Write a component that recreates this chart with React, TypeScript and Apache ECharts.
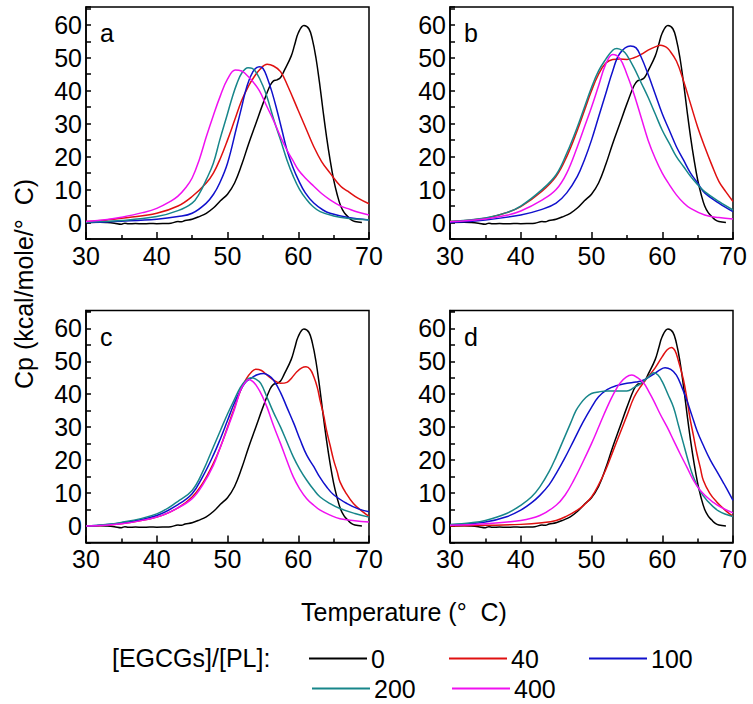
import React, { useEffect, useRef } from "react";
import * as echarts from "echarts";

type P = [number, number][];

const seriesNames = ["0", "40", "100", "200", "400"];
const seriesColors = ["#000000", "#e01010", "#1010cc", "#17868a", "#f010f0"];
const panelLetters = ["a", "b", "c", "d"];

const ctrl0: P = [[30,0],[32,0.1],[33,0],[34,-0.2],[35,-0.5],[35.5,-0.2],[36,-0.4],[37,-0.3],[38,-0.4],[39,-0.3],[40,-0.35],[41,-0.3],[42,-0.2],[43,0.3],[43.5,0.2],[44,0.6],[45,1.0],[46,1.8],[47,2.8],[48,4.4],[49,6.6],[50,8.6],[51,12],[52,17.5],[53,24],[54,30],[55,36],[56,41.5],[56.5,43],[57,43.3],[57.5,44],[58,46],[59,50.5],[59.5,54],[60,57.5],[60.8,59.8],[61.5,58.8],[62,55.5],[62.5,50],[63,42.5],[63.5,34],[64,26],[64.5,19],[65,13],[65.5,8.5],[66,5],[66.5,3],[67,1.8],[67.5,0.8],[68,0.3],[69,0]];

const a40: P = [[30,0.3],[33,0.8],[36,1.5],[40,2.8],[43,5],[45,7.9],[47,12],[48,15],[49,19.5],[50,25],[51,31],[52,37],[53,41.5],[53.7,44],[54.6,46.5],[55.6,48],[56.5,47.5],[57.5,45.8],[58.5,41.5],[60,34],[61,29],[62.2,23],[63.3,18.5],[64.5,15],[66,11],[67,9.5],[68.5,7.3],[70,5.7]];
const a100: P = [[30,0],[35,0.4],[40,1],[43,1.8],[45,2.8],[47,5.9],[48,8.5],[48.9,12],[50,18],[51.3,29],[52,35],[52.7,41],[53.6,45.8],[54.5,47.3],[55,46.8],[55.6,44],[56.3,39.5],[57,34],[57.7,28],[58.4,22],[59.2,17],[60,13],[61,9],[62.2,5.9],[63.5,3.8],[64.5,2.8],[66.9,1.6],[70,0.8]];
const a200: P = [[30,0.1],[35,0.6],[40,1.8],[43,3.6],[45,5.9],[46,8.7],[47,13],[48,18],[48.9,25],[50,33],[50.6,37.5],[51.3,42],[52,45.3],[52.9,47],[53.5,46.8],[54.2,45],[55,41.5],[55.6,38],[56.5,31.5],[57.5,25],[58.4,19],[59.3,14],[60.2,10],[61.2,6.9],[62,5],[63.1,3.3],[65,2],[66.9,1.3],[70,0.8]];
const a400: P = [[30,0.3],[33,0.9],[35,1.6],[38,3],[40,4.3],[42,6.5],[43,8],[44,10.3],[45,13.5],[46,19],[47,26],[48,32.5],[49,38.5],[50,43.5],[51.1,46.3],[52,46],[52.6,45],[53.5,43],[54.5,40],[55.5,35.5],[56.5,31],[57.5,26],[58.4,22],[59.2,19],[60,16],[61,13.5],[62.2,11],[63.3,8.8],[64.5,6.9],[66,5],[66.9,4.3],[68.5,3.1],[70,2.3]];

const b40: P = [[30,0.3],[35,1.3],[38,3],[40,4.8],[43,9.5],[45,14],[46.5,20],[48,28],[49,34],[50,40],[51,45],[52,48.3],[53,49.5],[54,49.6],[55,49.5],[56,50],[57,51],[58,52.3],[59,53.3],[59.8,53.8],[60.5,53.3],[61,52.3],[62,49],[63,43],[64,36],[65,29],[66,23],[67,17.5],[68,12.5],[69,9.3],[70,6.4]];
const b100: P = [[30,0],[35,0.8],[40,2.3],[43,4],[45,5.9],[46.5,9],[48,14],[49,19],[50,25],[51,32],[52,39],[53,46],[54,51.3],[55.5,53.6],[56.3,53],[57,50.3],[58,45],[59,39],[60,33],[61,28],[62,23],[63,19],[64,15],[65,12],[66,9],[68,5.9],[70,3.3]];
const b200: P = [[30,0.3],[35,1.4],[38,3],[40,5],[43,10],[45,14.5],[46.5,21],[48,29],[49,35],[50,41],[51,46],[52,49.5],[53,52.3],[53.6,52.8],[54.5,52],[55,50.8],[56,47],[57,42.5],[58,38],[59,33],[60,28],[61,24],[62,20],[63,17],[64,14],[65,11.5],[66,9.4],[68,6.4],[70,3.8]];
const b400: P = [[30,0.2],[35,1.1],[38,2.2],[40,3.5],[43,6.8],[45,10],[46.5,15],[48,23],[49,29],[50,35],[51,41.5],[52,48],[53,51],[54,49.8],[55,45],[56,39],[57,32],[58,25],[59,19.5],[60,15],[61,11.5],[62,8.4],[63,6],[64,4.3],[66,2.3],[68,1.5],[70,1.1]];

const c40: P = [[30,0],[35,0.7],[40,2.7],[43,5.5],[45,8.8],[46.5,13],[48,19],[49,24],[50,30],[51,36],[52,42],[52.7,44.8],[53.3,46.5],[54,47.6],[54.8,47.2],[55.6,45.8],[56.5,44.3],[57.5,43.3],[58.4,43.6],[59.1,45],[59.8,46.8],[60.5,48],[61.1,48.3],[61.7,47.5],[62.2,45.3],[62.7,42],[63.1,38],[63.6,33.5],[64,29],[64.5,24.5],[65,20],[65.5,16.5],[65.9,13.4],[66.8,9.8],[67.8,6.8],[69,4.5],[70,2.9]];
const c100: P = [[30,0],[35,0.9],[40,3.2],[43,6.5],[45,9.8],[46.5,15],[48,21.5],[49,26.5],[50,32],[51,37.5],[51.8,41],[52.5,43.5],[53.3,44.8],[54.2,45.9],[55.1,46.3],[55.8,45.7],[56.5,44.3],[57.5,40.5],[58.4,36],[59.4,31],[60.3,26],[61.2,21.5],[62.2,18],[63,15],[64,11.9],[65,9.5],[66.9,6.8],[68.5,5.2],[70,4.3]];
const c200: P = [[30,0],[35,1.1],[40,3.7],[43,7.5],[45,10.8],[46.5,16.5],[48,24],[49,29],[50,34],[51,38.5],[51.8,42],[52.5,44],[53.3,45],[54,44.6],[54.7,43.3],[55.6,39],[56.5,34.5],[57.5,30],[58.4,25.5],[59.3,21],[60.2,17.3],[61.2,13.9],[62.2,11],[63.1,8.8],[64.5,6.8],[65.9,5.3],[68,3.8],[70,2.7]];
const c400: P = [[30,0],[35,0.7],[40,2.7],[43,5.5],[45,8.3],[46.5,12.5],[48,18.4],[49,24],[50,29.6],[51,35.5],[51.8,41],[52.4,43.3],[53,44.5],[53.6,43.8],[54.2,42.2],[54.9,39.5],[55.6,36],[56.5,30.5],[57.5,25],[58.4,19.8],[59.3,14.9],[60.2,11.3],[61.2,8.3],[62.2,6.3],[63.1,4.8],[64.5,3.3],[65.9,2.2],[68,1.6],[70,1.2]];

const d40: P = [[30,0],[35,0.2],[40,0.5],[43,1],[45,1.7],[46.5,3],[48,4.8],[49,6.5],[50,8.8],[51,12.5],[52,17],[53,22.5],[54,28],[55,33.5],[56,39],[57,42.5],[58,45.3],[59,48],[60,51.4],[60.7,53.5],[61.3,54.2],[61.8,53.2],[62.3,50],[63,44.3],[63.5,38.5],[63.9,33],[64.4,27.5],[64.9,22],[65.4,17.5],[65.8,13.9],[66.7,10],[67.7,7.3],[69,4.6],[70,2.9]];
const d100: P = [[30,0.3],[35,1.2],[38,2.8],[40,4.8],[41.5,7],[42.7,9.3],[44,12.5],[45,15.9],[46.2,20.5],[47.5,26],[48.8,31.5],[50,36],[51,39.2],[52.2,41.4],[53.5,42.6],[55,43.3],[56.3,43.7],[57.4,44.3],[58.8,46.1],[59.6,47.3],[60.4,48],[61.2,47.5],[62,45.8],[62.8,42],[63.5,38],[64.2,33.5],[64.9,29],[65.8,24.5],[66.8,20],[67.8,16.3],[68.7,12.9],[70,7.8]];
const d200: P = [[30,0.5],[33,1],[35,1.7],[38,3.8],[40,6.3],[41.5,8.8],[42.7,11.9],[44,16.5],[45,21],[46,26],[47,31],[47.8,35],[48.4,37],[49.2,39],[50,40.2],[51,40.7],[52.2,41],[53.5,41],[55,41],[56,42],[57,43.3],[58,45.2],[58.8,46.5],[59.4,45.8],[60,43.8],[60.8,40],[61.6,36],[62.3,30.5],[63,25],[63.7,19.5],[64.4,14.9],[65.3,10.8],[66.3,7.8],[68,4.5],[70,2.9]];
const d400: P = [[30,0.2],[35,0.7],[40,1.7],[42.7,3.2],[45,6.3],[46.3,9.5],[47.5,13.9],[48.8,19.5],[50,25],[51.1,30.5],[52.2,36],[53.1,40],[54,43.3],[54.9,45.2],[55.7,45.8],[56.5,45],[57.4,43.3],[58.1,40.8],[58.8,38],[59.7,34],[60.7,30],[61.6,26],[62.5,22],[63.5,17.8],[64.4,13.9],[65.3,11],[66.3,8.8],[67.2,7.2],[68.2,5.8],[70,4]];

const panelData: P[][] = [
  [ctrl0, a40, a100, a200, a400],
  [ctrl0, b40, b100, b200, b400],
  [ctrl0, c40, c100, c200, c400],
  [ctrl0, d40, d100, d200, d400],
];

const FONT = "'Liberation Sans', Arial, sans-serif";

const grids = [
  { left: 86, top: 7, width: 283, height: 232 },
  { left: 450, top: 7, width: 283, height: 232 },
  { left: 86, top: 310.5, width: 283, height: 232 },
  { left: 450, top: 310.5, width: 283, height: 232 },
];

const legendPos = [
  { left: 309, top: 646 },
  { left: 449, top: 646 },
  { left: 589, top: 646 },
  { left: 312, top: 676 },
  { left: 452, top: 676 },
];

export default function App() {
  const ref = useRef<HTMLDivElement>(null);
  useEffect(() => {
    if (!ref.current) return;
    const chart = echarts.init(ref.current, undefined, { renderer: "svg" });
    const xAxis: any[] = [];
    const yAxis: any[] = [];
    const series: any[] = [];
    grids.forEach((g, p) => {
      xAxis.push({
        type: "value", gridIndex: p, min: 30, max: 70, interval: 10,
        axisLine: { show: true, onZero: false, lineStyle: { color: "#000", width: 1.5 } },
        splitLine: { show: false },
        axisTick: { show: true, inside: true, length: 7, lineStyle: { color: "#000", width: 1.5 } },
        minorTick: { show: true, splitNumber: 2, length: 4, lineStyle: { color: "#000", width: 1.5 } },
        minorSplitLine: { show: false },
        axisLabel: { fontSize: 25, fontFamily: FONT, color: "#000", margin: 4 },
      });
      yAxis.push({
        type: "value", gridIndex: p, min: -5, max: 65.4, interval: 5,
        axisLine: { show: true, onZero: false, lineStyle: { color: "#000", width: 1.5 } },
        splitLine: { show: false },
        axisTick: { show: true, inside: true, length: 5, lineStyle: { color: "#000", width: 1.5 } },
        axisLabel: {
          fontSize: 25, fontFamily: FONT, color: "#000", margin: 4,
          formatter: (v: number) => (v >= 0 && Math.round(v) % 10 === 0 ? String(Math.round(v)) : ""),
        },
      });
      panelData[p].forEach((d, k) => {
        series.push({
          type: "line", name: seriesNames[k], xAxisIndex: p, yAxisIndex: p,
          data: d, symbol: "none", showSymbol: false, smooth: 0.4,
          lineStyle: { color: seriesColors[k], width: 1.5 },
          itemStyle: { color: seriesColors[k] },
          emphasis: { disabled: true },
        });
      });
    });

    const graphic: any[] = [];
    grids.forEach((g, p) => {
      graphic.push({
        type: "text", x: g.left + 14, y: g.top + 26,
        style: { text: panelLetters[p], font: `25px ${FONT}`, fill: "#000", verticalAlign: "middle" },
      });
    });
    graphic.push({
      type: "text", x: 404, y: 612,
      style: { text: "Temperature (°  C)", font: `25px ${FONT}`, fill: "#000", align: "center", verticalAlign: "middle" },
    });
    graphic.push({
      type: "text", x: 24, y: 284, rotation: Math.PI / 2,
      style: { text: "Cp (kcal/mole/°  C)", font: `25px ${FONT}`, fill: "#000", align: "center", verticalAlign: "middle" },
    });
    graphic.push({
      type: "text", x: 112, y: 658,
      style: { text: "[EGCGs]/[PL]:", font: `25px ${FONT}`, fill: "#000", align: "left", verticalAlign: "middle" },
    });

    const legend = seriesNames.map((n, k) => ({
      data: [n], left: legendPos[k].left, top: legendPos[k].top, padding: 0,
      icon: "rect", itemWidth: 58, itemHeight: 2, selectedMode: false,
      textStyle: { fontSize: 25, fontFamily: FONT, color: "#000", padding: [0, 0, 0, -1] },
    }));

    chart.setOption({
      animation: false,
      grid: grids.map((g) => ({ left: g.left, top: g.top, width: g.width, height: g.height, show: true, borderColor: "#000", borderWidth: 1.5 })),
      xAxis, yAxis, series, legend, graphic,
    });
    return () => chart.dispose();
  }, []);
  return <div ref={ref} style={{ width: 753, height: 704, position: "absolute", left: 0, top: 0 }} />;
}
